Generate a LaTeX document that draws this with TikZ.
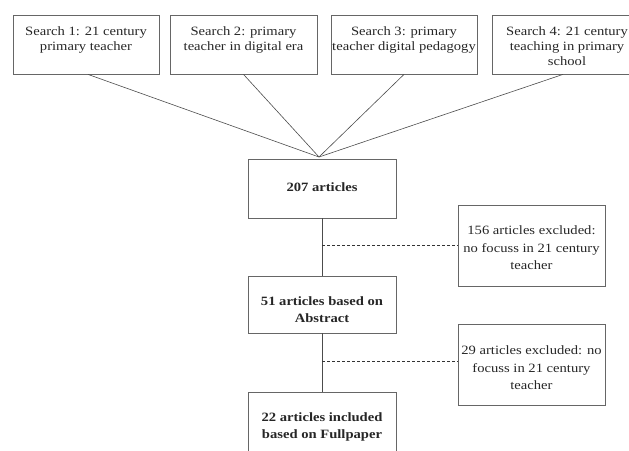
\documentclass[tikz,border=0pt]{standalone}
\usepackage{fontspec}
\setmainfont{Liberation Serif}[FakeStretch=1.15]
\begin{document}
\begin{tikzpicture}[x=1pt,y=-1pt,
  box/.style={draw=black!60, line width=0.8pt, inner sep=0pt, text=black!85},
  sbox/.style={box, font=\fontsize{12.7}{15}\selectfont},
  bbox/.style={box, font=\fontsize{12.7}{17}\selectfont\bfseries},
  xbox/.style={box, font=\fontsize{12.7}{17.5}\selectfont},
  link/.style={draw=black!70, line width=0.6pt},
  vlink/.style={draw=black!70, line width=1pt},
  dlink/.style={draw=black!80, line width=0.6pt, dash pattern=on 3pt off 2pt}]
\useasboundingbox (0,0) rectangle (629,450);
\clip (0,0) rectangle (629,450);
\newcommand{\bxt}[4]{\parbox[c][#2pt][t]{#1pt}{\centering\vspace*{#3pt}#4\par}}
\node[sbox] (s1) at (86,44.5) {\bxt{146}{59}{12}{Search 1: 21 century\\primary teacher}};
\node[sbox] (s2) at (243.5,44.5) {\bxt{147}{59}{12}{Search 2: primary\\teacher in digital era}};
\node[sbox] (s3) at (404,44.5) {\bxt{146}{59}{12}{Search 3: primary\\teacher digital pedagogy}};
\node[sbox] (s4) at (567,44.5) {\bxt{150}{59}{12}{Search 4: 21 century\\teaching in primary\\school}};
\coordinate (hub) at (319,157);
\node[bbox] (a207) at (322,188.5) {\bxt{148}{59}{24}{207 articles}};
\node[bbox] (a51) at (322,304.5) {\bxt{148}{57}{21}{51 articles based on\\Abstract}};
\node[bbox] (a22) at (322,428) {\bxt{148}{72}{21}{22 articles included\\based on Fullpaper}};
\node[xbox] (x156) at (531.5,245.5) {\bxt{147}{81}{21}{156 articles excluded:\\no focuss in 21 century\\teacher}};
\node[xbox] (x29) at (531.5,364.5) {\bxt{147}{81}{22}{29 articles excluded: no\\focuss in 21 century\\teacher}};
\draw[link] ([xshift=2pt]s1.south) -- (hub);
\draw[link] (s2.south) -- (hub);
\draw[link] (s3.south) -- (hub);
\draw[link] ([xshift=-4pt]s4.south) -- (hub);
\draw[vlink] (a207.south) -- (a51.north);
\draw[vlink] (a51.south) -- (a22.north);
\draw[dlink] (x156.west -| a207.south) -- (x156.west);
\draw[dlink] ([yshift=3.5pt]x29.west -| a51.south) -- ([yshift=3.5pt]x29.west);
\end{tikzpicture}
\end{document}
